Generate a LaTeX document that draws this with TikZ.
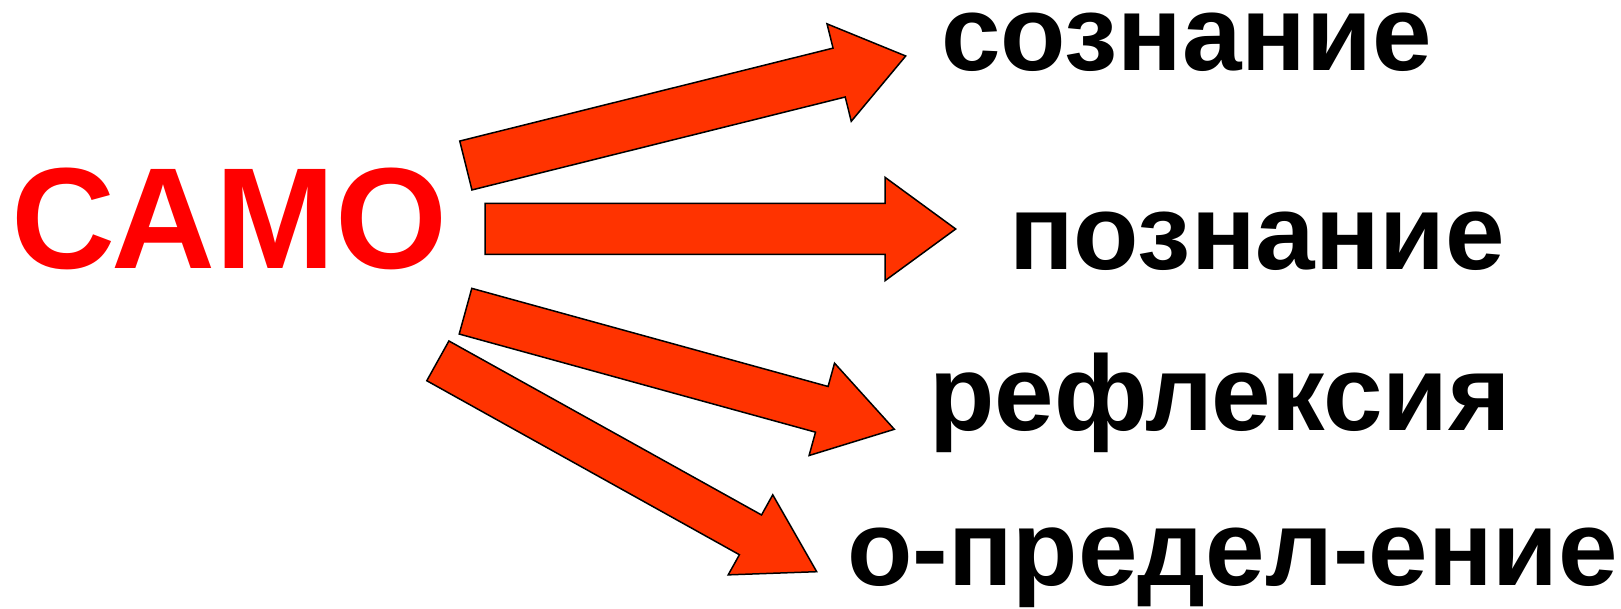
\documentclass[tikz,border=0pt]{standalone}
\usepackage{fontspec}
\setmainfont{Liberation Sans}
\usetikzlibrary{calc}
\definecolor{arrowred}{HTML}{FF3300}
\definecolor{samored}{HTML}{FF0000}
\tikzset{
  blockarrow/.style={fill=arrowred, draw=black, line width=1.5pt, line join=miter},
  bigword/.style={inner sep=0pt, anchor=base west, text=samored, font=\fontsize{144}{160}\selectfont\bfseries},
  word/.style={inner sep=0pt, anchor=base west, text=black, font=\fontsize{107}{120}\selectfont\bfseries}
}
% #1 tail centre, #2 tip, #3 shaft half width, #4 head half width, #5 head length
\newcommand{\drawblockarrow}[5]{%
  \coordinate (hb) at ($(#2)!#5!(#1)$);
  \draw[blockarrow]
    ($(#1)!#3!90:(#2)$) -- ($(hb)!#3!-90:(#1)$) -- ($(hb)!#4!-90:(#1)$)
    -- (#2) -- ($(hb)!#4!90:(#1)$) -- ($(hb)!#3!90:(#1)$)
    -- ($(#1)!#3!-90:(#2)$) -- cycle;
}
\begin{document}
\begin{tikzpicture}[x=1pt,y=-1pt]
\useasboundingbox (0,0) rectangle (1621,609);
\node[bigword] (samo) at (11,269) {САМО};
\node[word] (w1) at (941,71) {сознание};
\node[word] (w2) at (1009,270) {познание};
\node[word] (w3) at (929,430.7) {рефлексия};
\node[word] (w4) at (847,585) {о-предел-ение};
\coordinate (t1) at (465.85,165.5);
\coordinate (p1) at (905.7,56);
\coordinate (t2) at (485,229);
\coordinate (p2) at (955.7,229);
\coordinate (t3) at (465.5,311.2);
\coordinate (p3) at (894.3,429.3);
\coordinate (t4) at (437.85,360.85);
\coordinate (p4) at (816.7,571.7);
\drawblockarrow{t1}{p1}{25.2pt}{50.2pt}{68.6pt}
\drawblockarrow{t2}{p2}{25.5pt}{51.7pt}{70.7pt}
\drawblockarrow{t3}{p3}{23.7pt}{47.9pt}{75.2pt}
\drawblockarrow{t4}{p4}{22.75pt}{45.8pt}{75.8pt}
\end{tikzpicture}
\end{document}
